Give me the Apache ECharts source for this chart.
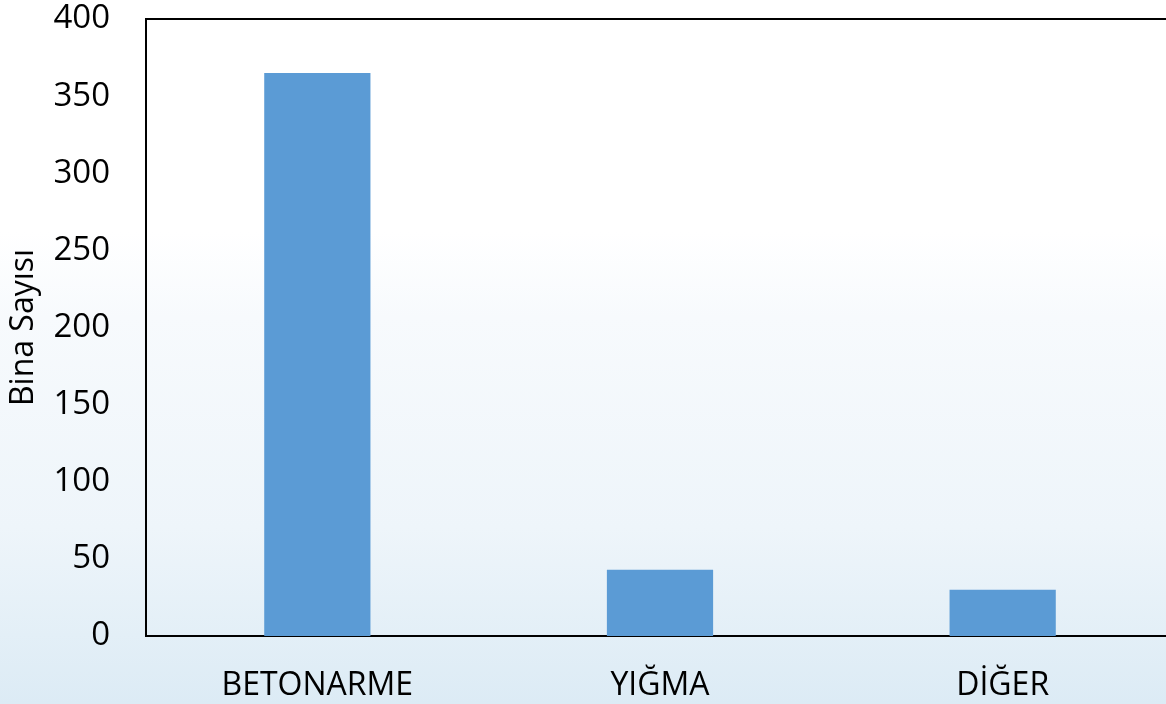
<!DOCTYPE html>
<html>
<head>
<meta charset="utf-8">
<script src="https://cdn.jsdelivr.net/npm/echarts@6/dist/echarts.min.js"></script>
<style>
  html, body { margin: 0; padding: 0; }
  #chart { width: 1166px; height: 704px; }
</style>
</head>
<body>
<div id="chart"></div>
<script>
var categories = ['BETONARME', 'YIĞMA', 'DİĞER'];
var binaSayisi = [365, 43, 30];
var yTicks = { min: 0, max: 400, interval: 50 };

var myChart = echarts.init(document.getElementById('chart'));

var option = {
  backgroundColor: {
    type: 'linear', x: 0, y: 0, x2: 0, y2: 1,
    colorStops: [
      { offset: 0, color: '#ffffff' },
      { offset: 0.33, color: '#ffffff' },
      { offset: 0.45, color: '#f7fafd' },
      { offset: 0.75, color: '#eef5fa' },
      { offset: 1, color: '#dcebf5' }
    ]
  },
  textStyle: { fontFamily: 'Open Sans' },
  grid: {
    left: 146, top: 19, width: 1028, height: 617,
    outerBoundsMode: 'none',
    containLabel: false,
    show: true,
    borderColor: '#000',
    borderWidth: 2,
    backgroundColor: 'transparent'
  },
  xAxis: {
    type: 'category',
    data: categories,
    axisTick: { show: false },
    axisLine: { lineStyle: { color: '#000', width: 2 } },
    axisLabel: { color: '#000', fontSize: 32, margin: 34, fontFamily: 'Open Sans' }
  },
  yAxis: {
    type: 'value',
    min: yTicks.min,
    max: yTicks.max,
    interval: yTicks.interval,
    name: 'Bina Sayısı',
    nameLocation: 'middle',
    nameGap: 106,
    nameTextStyle: { color: '#000', fontSize: 32, fontFamily: 'Open Sans' },
    axisLine: { show: true, lineStyle: { color: '#000', width: 2 } },
    axisTick: { show: false },
    splitLine: { show: false },
    axisLabel: { color: '#000', fontSize: 33, margin: 36, fontFamily: 'Open Sans' }
  },
  series: [{
    type: 'bar',
    data: binaSayisi,
    barWidth: '31%',
    itemStyle: { color: '#5b9bd5' }
  }]
};

myChart.setOption(option);
</script>
</body>
</html>
